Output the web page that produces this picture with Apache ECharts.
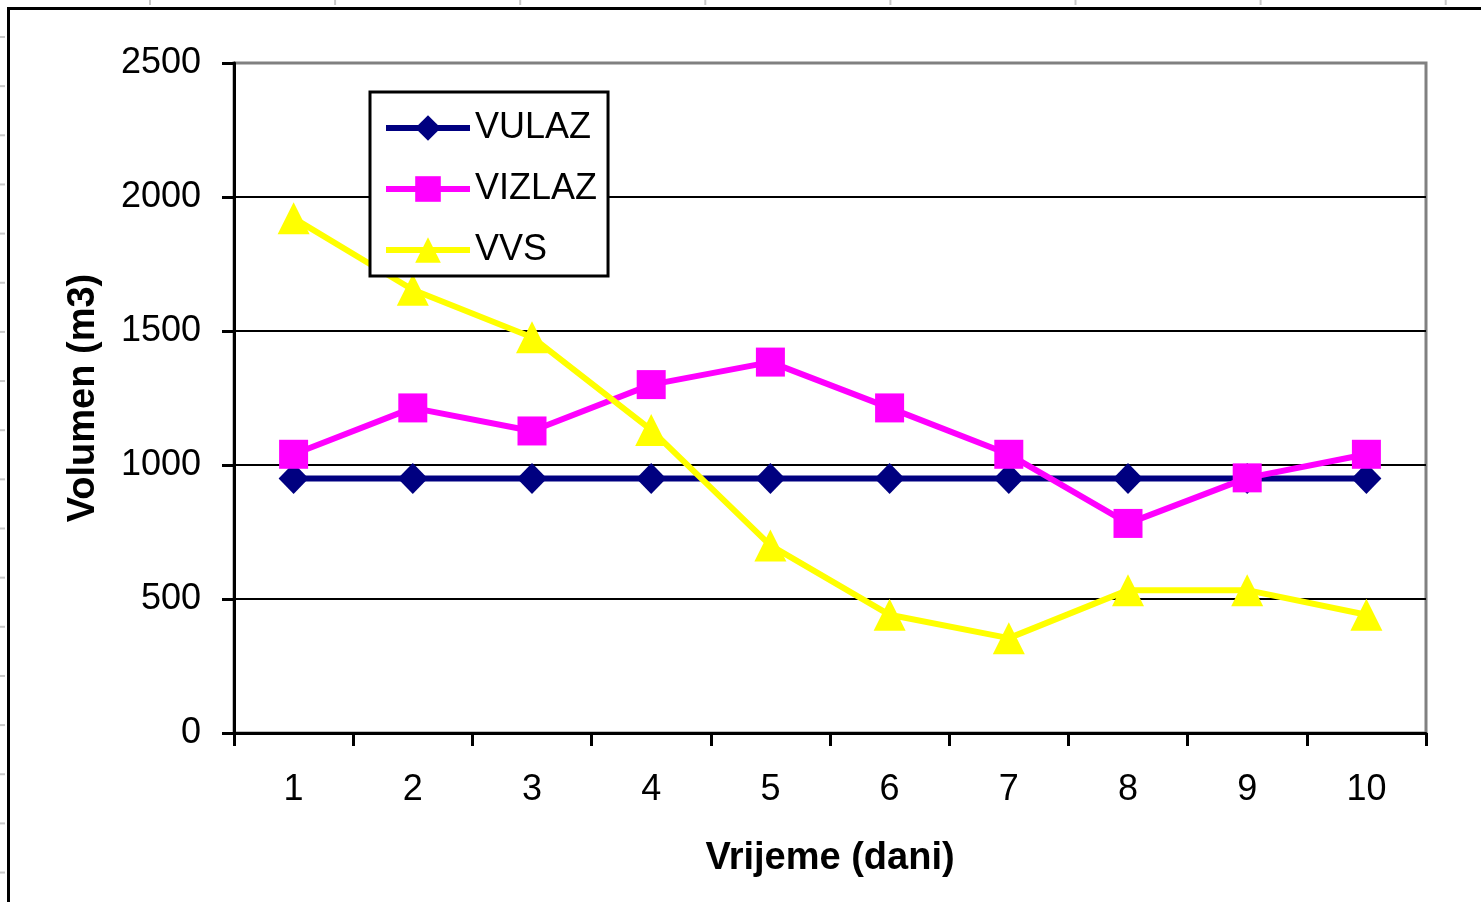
<!DOCTYPE html>
<html>
<head>
<meta charset="utf-8">
<script src="https://cdn.jsdelivr.net/npm/echarts@6/dist/echarts.min.js"></script>
<style>
  html, body { margin: 0; padding: 0; background: #ffffff; }
  #chart { width: 1481px; height: 902px; }
</style>
</head>
<body>
<div id="chart"></div>
<script>
// ---- data ----
const categories = ['1', '2', '3', '4', '5', '6', '7', '8', '9', '10'];
const vulaz  = [950, 950, 950, 950, 950, 950, 950, 950, 950, 950];
const vizlaz = [1040, 1213, 1127, 1300, 1384, 1213, 1040, 782, 952, 1040];
const vvs    = [1921, 1654, 1477, 1131, 700, 441, 354, 533, 533, 441];
const seriesNames = ['VULAZ', 'VIZLAZ', 'VVS'];
const xTitle = 'Vrijeme (dani)';
const yTitle = 'Volumen (m3)';

const FONT = "'Liberation Sans', Arial, sans-serif";
const chart = echarts.init(document.getElementById('chart'), null, { renderer: 'canvas' });

// worksheet-frame decoration (sheet border & faint cell ticks)
const deco = [
  { type: 'line', shape: { x1: 8.5, y1: 7, x2: 8.5, y2: 902 }, style: { stroke: '#000', lineWidth: 3 } },
  { type: 'line', shape: { x1: 7, y1: 8.5, x2: 1481, y2: 8.5 }, style: { stroke: '#000', lineWidth: 3 } }
];
for (let i = 0; i < 8; i++) {
  const x = 150 + i * 185.1;
  deco.push({ type: 'line', shape: { x1: x, y1: 0, x2: x, y2: 5 }, style: { stroke: '#c8c8c8', lineWidth: 2 } });
}
for (let i = 0; i < 18; i++) {
  const y = 37 + i * 49.15;
  deco.push({ type: 'line', shape: { x1: 0, y1: y, x2: 5, y2: y }, style: { stroke: '#c8c8c8', lineWidth: 2 } });
}

const option = {
  backgroundColor: '#ffffff',
  animation: false,
  textStyle: { fontFamily: FONT },
  graphic: deco,
  grid: {
    left: 234, right: 55, top: 63, bottom: 169,
    show: true, borderColor: '#808080', borderWidth: 3, backgroundColor: '#ffffff'
  },
  legend: {
    left: 370, top: 92,
    orient: 'vertical',
    backgroundColor: '#ffffff',
    borderColor: '#000000', borderWidth: 3,
    padding: [18, 11, 8, 13],
    itemWidth: 84, itemHeight: 32, itemGap: 25,
    z: 20,
    lineStyle: { width: 6 },
    textStyle: { fontFamily: FONT, fontSize: 36, color: '#000', lineHeight: 36 },
    data: seriesNames
  },
  xAxis: {
    type: 'category',
    data: categories,
    boundaryGap: true,
    name: xTitle,
    nameLocation: 'middle',
    nameGap: 107,
    nameTextStyle: { fontFamily: FONT, fontSize: 38, fontWeight: 'bold', color: '#000' },
    axisLine: { show: true, lineStyle: { color: '#000', width: 3 } },
    axisTick: { show: true, inside: false, length: 13, alignWithLabel: false, lineStyle: { color: '#000', width: 3 } },
    axisLabel: { fontFamily: FONT, fontSize: 36, color: '#000', margin: 39, lineHeight: 36 },
    splitLine: { show: false }
  },
  yAxis: {
    type: 'value',
    min: 0, max: 2500, interval: 500,
    name: yTitle,
    nameLocation: 'middle',
    nameGap: 131,
    nameRotate: 90,
    nameTextStyle: { fontFamily: FONT, fontSize: 38, fontWeight: 'bold', color: '#000' },
    axisLine: { show: true, lineStyle: { color: '#000', width: 3 } },
    axisTick: { show: true, inside: false, length: 12, lineStyle: { color: '#000', width: 3 } },
    axisLabel: { fontFamily: FONT, fontSize: 36, color: '#000', margin: 33, formatter: v => String(v) },
    splitLine: { show: true, showMinLine: false, showMaxLine: false, lineStyle: { color: '#000', width: 2 } }
  },
  series: [
    {
      name: seriesNames[0], type: 'line', data: vulaz,
      symbol: 'diamond', symbolSize: [30, 31],
      lineStyle: { color: '#000080', width: 6 },
      itemStyle: { color: '#000080' },
      z: 3
    },
    {
      name: seriesNames[1], type: 'line', data: vizlaz,
      symbol: 'rect', symbolSize: 29,
      lineStyle: { color: '#ff00ff', width: 6 },
      itemStyle: { color: '#ff00ff' },
      z: 4
    },
    {
      name: seriesNames[2], type: 'line', data: vvs,
      symbol: 'triangle', symbolSize: [32, 32],
      lineStyle: { color: '#ffff00', width: 6 },
      itemStyle: { color: '#ffff00' },
      z: 5
    }
  ]
};
chart.setOption(option);
</script>
</body>
</html>
